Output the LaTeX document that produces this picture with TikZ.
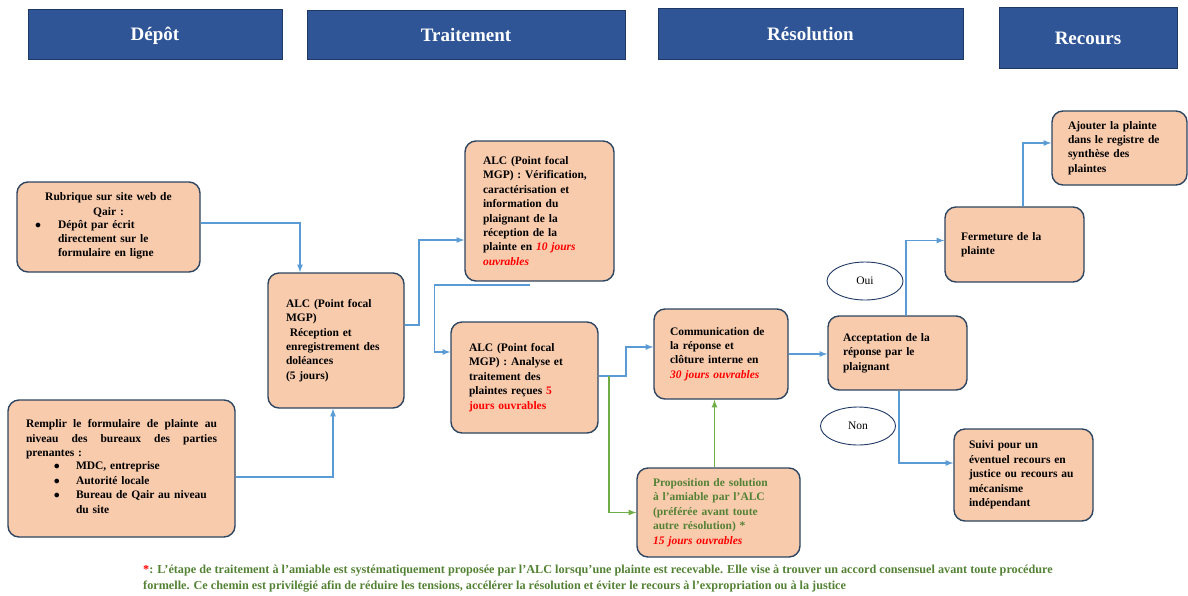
\documentclass[tikz,border=0pt]{standalone}
\usepackage{fontspec}
\setmainfont{Liberation Serif}
\usetikzlibrary{arrows,shapes.geometric}
\definecolor{bandeau}{HTML}{2F5597}
\definecolor{bandeaubord}{HTML}{1F3864}
\definecolor{saumon}{HTML}{F8CBAD}
\definecolor{bordboite}{HTML}{2E4561}
\definecolor{lien}{HTML}{5B9BD5}
\definecolor{vertlien}{HTML}{70AD47}
\definecolor{vertexte}{HTML}{548235}
\tikzstyle{phase}=[rectangle, draw=bandeaubord, line width=1pt, fill=bandeau, text=white, text height=13pt, text depth=0pt, font=\fontsize{19}{22}\selectfont\bfseries]
\tikzstyle{etape}=[rectangle, rounded corners=11pt, draw=bordboite, line width=1.4pt, fill=saumon, font=\fontsize{11.5}{14.4}\selectfont\bfseries, align=left, inner xsep=0pt]
\tikzstyle{reponse}=[ellipse, draw=bandeaubord, line width=0.9pt, fill=white, font=\fontsize{11.5}{13}\selectfont, inner sep=0pt]
\tikzstyle{fleche}=[draw=lien, line width=1.6pt, -latex]
\tikzstyle{flechev}=[draw=vertlien, line width=1.6pt, -latex]
\newcommand{\etape}{\node[etape]}
\newcommand{\rouge}[1]{\textcolor{red}{#1}}

\begin{document}
\begin{tikzpicture}[x=1pt,y=-1pt]
\useasboundingbox (0,0) rectangle (1188,595);

% bandeaux des phases
\node[phase, minimum width=254, minimum height=50] (depot) at (155,34) {Dépôt};
\node[phase, minimum width=318, minimum height=49] (trait) at (466,34.5) {Traitement};
\node[phase, minimum width=305, minimum height=51] (resol) at (810.5,33.5) {Résolution};
\node[phase, minimum width=178, minimum height=61] (recours) at (1088,37.5) {Recours};

% etapes
\etape[minimum width=183, minimum height=90, text width=147] (web) at (108.5,227)
  {\centering Rubrique sur site web de\\ Qair :\par\raggedright
   \begin{tabular}{@{}p{23pt}@{}l@{}}
   $\bullet$ & Dépôt par écrit\\
   & directement sur le\\
   & formulaire en ligne
   \end{tabular}};
\etape[minimum width=227, minimum height=137, text width=191] (form) at (121.5,468.5)
  {\makebox[191pt]{Remplir\hfill le\hfill formulaire\hfill de\hfill plainte\hfill au}\\
   \makebox[191pt]{niveau\hfill des\hfill bureaux\hfill des\hfill parties}\\
   prenantes :\\
   \begin{tabular}{@{\hspace{28pt}}p{22pt}@{}l@{}}
   $\bullet$ & MDC, entreprise\\
   $\bullet$ & Autorité locale\\
   $\bullet$ & Bureau de Qair au niveau\\
   & du site
   \end{tabular}};
\etape[minimum width=136, minimum height=135, text width=100] (recep) at (336,340.5)
  {ALC (Point focal\\ MGP)\\ \ Réception et\\ enregistrement des\\ doléances\\ (5 jours)};
\etape[minimum width=149, minimum height=140, text width=113] (verif) at (539.5,211)
  {ALC (Point focal\\ MGP) : Vérification,\\ caractérisation et\\ information du\\ plaignant de la\\ réception de la\\
   plainte en \rouge{\textit{10 jours}}\\ \rouge{\textit{ouvrables}}};
\etape[minimum width=147, minimum height=111, text width=111] (analyse) at (524.5,377.5)
  {ALC (Point focal\\ MGP) : Analyse et\\ traitement des\\ plaintes reçues \rouge{5}\\ \rouge{jours ouvrables}};
\etape[minimum width=134, minimum height=90, text width=102] (comm) at (721,354)
  {Communication de\\ la réponse et\\ clôture interne en\\ \rouge{\textit{30 jours ouvrables}}};
\etape[minimum width=163, minimum height=89, text width=131, text=vertexte] (amiable) at (718.5,512.5)
  {Proposition de solution\\ à l’amiable par l’ALC\\ (préférée avant toute\\ autre résolution) *\\ \rouge{\textit{15 jours ouvrables}}};
\etape[minimum width=139, minimum height=74, text width=109] (accept) at (897.5,353)
  {Acceptation de la\\ réponse par le\\ plaignant};
\etape[minimum width=139, minimum height=75, text width=107] (ferme) at (1014.5,244.5)
  {Fermeture de la\\ plainte};
\etape[minimum width=135, minimum height=74, text width=103] (ajout) at (1119.5,148)
  {Ajouter la plainte\\ dans le registre de\\ synthèse des\\ plaintes};
\etape[minimum width=139, minimum height=92, text width=109] (suivi) at (1023.5,475)
  {Suivi pour un\\ éventuel recours en\\ justice ou recours au\\ mécanisme\\ indépendant};

% reponses
\node[reponse, minimum width=76, minimum height=38] (oui) at (865,281) {Oui};
\node[reponse, minimum width=75, minimum height=38] (non) at (858,426) {Non};

% liens
\coordinate (embr) at (609,376);
\draw[fleche] ([yshift=4pt]web.east) -| ([xshift=-36pt]recep.north);
\draw[fleche] ([yshift=-8.5pt]form.east) -| ([xshift=-3pt]recep.south);
\draw[fleche] ([yshift=15.5pt]recep.east) -- ++(14,0) |- ([yshift=-29pt]verif.west);
\draw[fleche] ([xshift=-10pt,yshift=-3pt]verif.south) -| ([xshift=-16pt,yshift=25.5pt]analyse.west) -- ([yshift=25.5pt]analyse.west);
\draw[fleche] ([yshift=1.5pt]analyse.east) -- ++(27,0) |- ([yshift=7pt]comm.west);
\draw[flechev] (embr) |- (amiable.west);
\draw[flechev] ([xshift=-4pt]amiable.north) -- ([xshift=-4pt]amiable.north |- comm.south);
\draw[fleche] (comm.east) -- (comm.east -| accept.west);
\draw[fleche] ([xshift=8.5pt]accept.north) |- ([yshift=4pt]ferme.west);
\draw[fleche] ([xshift=1.5pt]accept.south) |- ([yshift=12pt]suivi.west);
\draw[fleche] ([xshift=8.5pt]ferme.north) |- ([yshift=5pt]ajout.west);

% note
\node[anchor=north west, inner sep=0pt, align=left, text=vertexte, font=\fontsize{12.2}{15.5}\selectfont\bfseries] (note) at (143,565)
  {\rouge{*}: L’étape de traitement à l’amiable est systématiquement proposée par l’ALC lorsqu’une plainte est recevable. Elle vise à trouver un accord consensuel avant toute procédure\\
   formelle. Ce chemin est privilégié afin de réduire les tensions, accélérer la résolution et éviter le recours à l’expropriation ou à la justice};
\end{tikzpicture}
\end{document}
